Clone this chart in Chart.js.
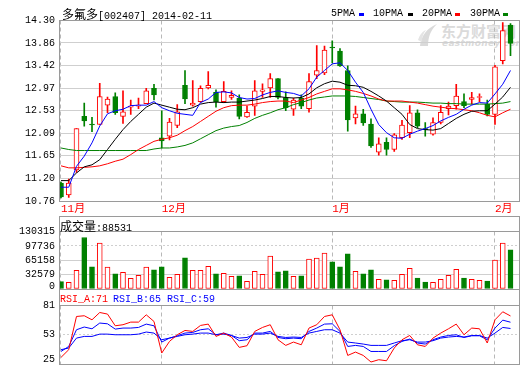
<!DOCTYPE html>
<html><head><meta charset="utf-8">
<script src="https://cdn.jsdelivr.net/npm/chart.js@4"></script>
<style>
html,body{margin:0;padding:0;background:#fff;overflow:hidden;width:520px;height:365px;}
#wrap{position:relative;width:520px;height:365px;}
canvas{position:absolute;left:0;top:0;}
.t{position:absolute;white-space:nowrap;font-family:'Liberation Mono','DejaVu Sans Mono',monospace;font-size:10px;line-height:12px;color:#000;}
.cjk{font-family:'Noto Sans CJK SC',sans-serif;font-size:12px;}
.sq{position:absolute;width:5px;height:3px;}
.wm{position:absolute;white-space:nowrap;color:#dadada;font-family:'Noto Sans CJK SC',sans-serif;}
</style></head><body><div id="wrap">
<svg class="wm" style="left:417px;top:22px" width="22" height="26" viewBox="0 0 22 26"><path d="M3 24 C4 14 10 6 20 2 C14 8 11 14 11 24 Z" fill="#dadada"/><path d="M1 18 C3 12 6 9 9 8 C6 12 5 15 5 20 Z" fill="#e4e4e4"/></svg>
<div class="wm" style="left:441px;top:22px;font-size:15px;font-weight:bold;line-height:18px;">东方财富网</div>
<div class="wm" style="left:442px;top:38px;font-size:9px;font-weight:bold;font-style:italic;line-height:10px;font-family:'DejaVu Sans',sans-serif;letter-spacing:0.3px">eastmoney.com</div>
<canvas id="cPrice" width="520" height="365"></canvas>
<canvas id="cVol" width="520" height="365"></canvas>
<canvas id="cRsi" width="520" height="365"></canvas>
<div class="t" style="left:62px;top:7px;line-height:14px"><span class="cjk">多氟多</span>[002407] 2014-02-11</div>
<div class="t" style="left:331px;top:8px">5PMA</div><div class="sq" style="left:359px;top:13px;background:#0000ff"></div>
<div class="t" style="left:373px;top:8px">10PMA</div><div class="sq" style="left:408px;top:13px;background:#000"></div>
<div class="t" style="left:422px;top:8px">20PMA</div><div class="sq" style="left:455px;top:13px;background:#ff0000"></div>
<div class="t" style="left:470px;top:8px">30PMA</div><div class="sq" style="left:503px;top:13px;background:#008000"></div>
<div class="t" id="volHead" style="left:60px;top:219px;line-height:14px"><span class="cjk">成交量</span>:88531</div>
<div class="t" style="left:60px;top:294px;color:#ff0000">RSI_A:71</div>
<div class="t" style="left:113px;top:294px;color:#0000ff">RSI_B:65</div>
<div class="t" style="left:167px;top:294px;color:#0000ff">RSI_C:59</div>
</div>
<script>
// ---------- data ----------
const dates = ['2013-11-13','2013-11-14','2013-11-15','2013-11-18','2013-11-19','2013-11-20','2013-11-21','2013-11-22','2013-11-25','2013-11-26','2013-11-27','2013-11-28','2013-11-29',
'2013-12-02','2013-12-03','2013-12-04','2013-12-05','2013-12-06','2013-12-09','2013-12-10','2013-12-11','2013-12-12','2013-12-13','2013-12-16','2013-12-17','2013-12-18','2013-12-19','2013-12-20','2013-12-23','2013-12-24','2013-12-25','2013-12-26','2013-12-27','2013-12-30','2013-12-31',
'2014-01-02','2014-01-03','2014-01-06','2014-01-07','2014-01-08','2014-01-09','2014-01-10','2014-01-13','2014-01-14','2014-01-15','2014-01-16','2014-01-17','2014-01-20','2014-01-21','2014-01-22','2014-01-23','2014-01-24','2014-01-27','2014-01-28','2014-01-29','2014-01-30',
'2014-02-07','2014-02-10','2014-02-11'];
const monthTickIdx = [0, 13, 35, 56];
const monthLabels = ['11月', '12月', '1月', '2月'];

const openP  = [11.11,10.88,11.37,12.42,12.27,12.26,12.64,12.81,12.42,12.60, 12.62,12.67,12.97,12.00,12.03,12.24,13.03,12.64,12.71,12.98, 12.89,12.71,12.79,12.78,12.41,12.62,12.91,12.98,13.16,12.79, 12.56,12.78,12.57,13.23,13.27,13.78,13.70,13.32,12.39,12.47, 12.27,11.72,11.91,11.77,12.00,12.10,12.49,12.17,12.07,12.30, 12.57,12.63,12.71,12.75,12.79,12.66,12.46,13.51,14.21];
const highP  = [11.13,11.19,12.18,12.68,12.40,13.07,12.80,12.88,12.92,12.74, 12.78,12.97,13.05,12.53,12.38,12.65,13.32,13.12,13.02,13.30, 12.94,13.10,12.92,12.84,12.62,13.12,13.06,13.26,13.16,12.90, 12.78,12.84,13.26,13.81,13.80,13.90,13.75,13.41,12.62,12.56, 12.37,12.00,12.00,12.08,12.34,12.63,12.55,12.30,12.39,12.63, 12.70,13.05,12.86,12.89,12.86,12.74,13.42,14.26,14.24];
const lowP   = [10.82,10.83,11.32,12.23,12.12,12.26,12.49,12.46,12.28,12.46, 12.57,12.67,12.74,11.80,11.96,12.20,12.67,12.62,12.70,12.96, 12.60,12.69,12.75,12.37,12.40,12.44,12.79,12.79,12.76,12.53, 12.44,12.57,12.50,13.16,13.24,13.47,13.40,12.13,12.27,12.24, 11.81,11.66,11.66,11.73,11.97,12.00,12.20,12.03,12.05,12.27, 12.45,12.56,12.59,12.66,12.71,12.43,12.26,13.45,13.61];
const closeP = [10.84,11.11,12.18,12.33,12.25,12.81,12.76,12.49,12.51,12.61, 12.64,12.92,12.84,11.94,12.31,12.51,12.76,12.68,12.97,13.03, 12.71,12.91,12.83,12.42,12.50,12.92,12.94,13.16,12.79,12.59, 12.74,12.62,13.10,13.32,13.72,13.76,13.41,12.35,12.47,12.29, 11.84,11.88,11.77,12.06,12.25,12.49,12.23,12.16,12.30,12.50, 12.62,12.82,12.63,12.79,12.81,12.46,13.39,14.10,13.85];

const ma5  = [11.03,11.03,11.44,11.64,11.90,12.23,12.47,12.53,12.56,12.63, 12.64,12.64,12.71,12.59,12.53,12.48,12.46,12.44,12.69,12.76, 12.89,12.90,12.88,12.79,12.76,12.77,12.84,12.89,12.92,12.89, 12.87,12.82,12.96,13.19,13.32,13.45,13.47,13.32,13.09,12.89, 12.56,12.26,12.10,12.00,11.99,12.07,12.13,12.18,12.24,12.33, 12.40,12.46,12.56,12.64,12.69,12.68,12.86,13.05,13.32];
const ma10 = [11.16,11.16,11.31,11.43,11.47,11.57,11.77,11.97,12.16,12.32, 12.46,12.60,12.68,12.64,12.60,12.56,12.55,12.59,12.66,12.69, 12.70,12.69,12.70,12.70,12.72,12.74,12.77,12.81,12.81,12.79, 12.78,12.79,12.86,12.98,13.06,13.11,13.09,13.03,13.02,12.99, 12.91,12.82,12.72,12.59,12.46,12.26,12.18,12.16,12.15,12.18, 12.28,12.38,12.46,12.52,12.53,12.53,12.66,12.80,12.99];
const ma20 = [11.45,11.41,11.41,11.42,11.43,11.45,11.49,11.54,11.58,11.67, 11.77,11.85,11.93,11.97,12.00,12.05,12.14,12.22,12.32,12.42, 12.52,12.59,12.63,12.64,12.64,12.66,12.69,12.71,12.72,12.72, 12.69,12.74,12.79,12.86,12.91,12.96,12.96,12.94,12.91,12.87, 12.82,12.76,12.72,12.72,12.72,12.70,12.68,12.65,12.62,12.60, 12.58,12.57,12.55,12.53,12.49,12.44,12.41,12.49,12.56];
const ma30 = [11.80,11.77,11.75,11.75,11.75,11.75,11.75,11.75,11.75,11.75, 11.75,11.75,11.78,11.80,11.80,11.82,11.85,11.90,11.98,12.06, 12.14,12.19,12.22,12.24,12.30,12.38,12.44,12.49,12.55,12.59, 12.65,12.69,12.74,12.78,12.80,12.82,12.82,12.82,12.81,12.79, 12.77,12.75,12.72,12.71,12.70,12.70,12.70,12.69,12.68,12.68, 12.67,12.67,12.66,12.66,12.66,12.66,12.67,12.68,12.71];

const volume = [16600,15200,42500,116700,50000,103900,49400,34100,38000,24300, 31200,49400,43200,50000,26600,33400,70500,42500,42500,51600, 34100,35700,28900,29600,17500,40300,33400,74400,38700,40900, 28900,29600,67600,69800,81200,61400,50000,79600,40300,34100, 43200,22100,20500,19800,33400,47100,25000,15900,15200,22100, 31200,44800,25000,22100,19800,18200,65300,103900,88531];

const rsiA = [31.3,38.7,70.5,71.2,67.3,74.3,72.8,61.6,62.6,65.1, 65.1,72.1,65.7,35.5,46.6,53,57.1,56.2,61.9,63.2, 51.4,54.6,50.8,40.9,42.5,56.2,60,62.6,48.2,42.8, 46.0,43.4,59.4,62.6,70.5,72.1,57.8,33.2,36.4,33.2, 26.9,29.1,28.1,40.3,48.2,52.3,43.4,41.8,49.8,54.6, 58.7,63.2,53,59.4,58.7,45.1,67.3,75,71];
const rsiB = [37,41.8,57.8,60.4,58.7,64.2,63.5,58.4,59.4,59.4, 60,63.2,61.6,46,49.8,52,54.6,55.2,57.8,58.7, 53,54.6,52.3,47.3,48.2,54.6,54.6,56.2,50.4,49.2, 49.8,49.2,56.2,59.4,63.2,63.5,56.2,41.8,42.8,41.8, 37,37,37,42.5,46.6,48.9,45.1,44.1,48.2,50.8, 52.3,53,50.4,52,52,48.2,59.4,67,65];
const rsiC = [38.7,40.3,49.8,51.4,51.4,53.6,53.6,53,53,53, 53.6,55.6,54.6,48.2,49.8,51.4,53,53.6,54.6,54.6, 53,53.6,52.3,49.8,50.4,53.6,53.6,54.6,51.4,50.4, 50.8,50.4,54.6,56.2,57.8,57.8,54.6,46,45.1,44.1, 42.8,42.8,42.8,45.1,47.3,48.2,46,46,47.3,49.8, 50.8,51.4,50.8,52.3,52.3,49.8,54.6,60,59];

const priceTicks = [10.76, 11.20, 11.65, 12.09, 12.53, 12.97, 13.42, 13.86, 14.30];
const volTicks = [0, 32579, 65158, 97736, 130315];
const rsiTicks = [25, 53, 81];

// ---------- style / layout ----------
const RED = '#ff0000', GREEN = '#008000', BLUE = '#0000ff', BLACK = '#000000';
const FRAME = '#9a9a9a', GRID = '#cfcfcf', VGRID = '#b8b8b8';
const X_LEFT = 59, X_RIGHT = 519, X_MIN = -0.258, X_MAX = 59.097;
Chart.defaults.font.family = "'Liberation Mono','DejaVu Sans Mono','Noto Sans CJK SC',monospace";
Chart.defaults.font.size = 10;
Chart.defaults.color = '#000';

const isUp = closeP.map((c, i) => c >= openP[i]);
const pts = arr => arr.map((v, i) => ({x: i, y: v}));

const framePlugin = {
  id: 'frame',
  afterDraw(chart, args, o) {
    const {ctx, chartArea: a} = chart;
    ctx.save();
    ctx.strokeStyle = FRAME; ctx.lineWidth = 1; ctx.setLineDash([]);
    const L = Math.floor(a.left) + 0.5, R = Math.floor(a.right) + 0.5;
    const T = (o.boxTop != null ? o.boxTop : Math.floor(a.top)) + 0.5;
    const B = Math.floor(a.bottom) + 0.5;
    ctx.strokeRect(L, T, R - L, B - T);
    if (o.boxTop != null) {
      const y = Math.floor(a.top) + 0.5;
      ctx.beginPath(); ctx.moveTo(L, y); ctx.lineTo(R, y); ctx.stroke();
    }
    ctx.restore();
  }
};

function xScale(h, showLabels) {
  return {
    type: 'linear', min: X_MIN, max: X_MAX, offset: false,
    afterBuildTicks: s => { s.ticks = monthTickIdx.map(v => ({value: v})); },
    afterFit: s => { s.height = h; s.paddingLeft = 0; s.paddingRight = 0; },
    grid: {offset: false, color: VGRID, lineWidth: 1, drawTicks: false},
    border: {display: false, dash: [4, 3]},
    ticks: {display: showLabels, padding: 1, align: 'start', color: RED, autoSkip: false, maxRotation: 0,
      font: {size: 11}, callback: (v, i) => monthLabels[i]}
  };
}
function yScale(min, max, tickArr, fmt, dashFn, fontFn) {
  return {
    type: 'linear', min, max, position: 'left',
    afterBuildTicks: s => { s.ticks = tickArr.map(v => ({value: v})); },
    afterFit: s => { s.width = X_LEFT; s.paddingTop = 0; s.paddingBottom = 0; },
    grid: {drawTicks: false, lineWidth: 1,
      color: c => (c.index === 0 || c.index === tickArr.length - 1) ? 'rgba(0,0,0,0)' : GRID},
    border: {display: false, dash: dashFn},
    ticks: {padding: 4, autoSkip: false, color: '#000', callback: fmt, font: fontFn}
  };
}
const commonOpts = (top) => ({
  responsive: false, animation: false, devicePixelRatio: 1,
  layout: {padding: {left: 0, right: 520 - X_RIGHT, top: top, bottom: 0}},
  plugins: {legend: {display: false}, tooltip: {enabled: false}},
  events: []
});

// ---------- price chart ----------
const priceOpts = commonOpts(20.5);
priceOpts.plugins.frame = {};
priceOpts.scales = {
  x: xScale(365 - 201, true),
  y: yScale(10.76, 14.30, priceTicks, v => v.toFixed(2), c => [], {size: 10})
};
const lineDs = (label, arr, color) => ({type: 'line', label, data: pts(arr), borderColor: color, borderWidth: 1,
  pointRadius: 0, tension: 0, fill: false, order: 1});
new Chart(document.getElementById('cPrice'), {
  type: 'bar',
  data: {datasets: [
    {label: 'wick', data: lowP.map((l, i) => ({x: i, y: [l, highP[i]]})), backgroundColor: isUp.map(u => u ? RED : GREEN),
     borderWidth: 0, barThickness: 1, grouped: false, order: 3},
    {label: 'body', data: openP.map((o, i) => ({x: i, y: [o, closeP[i]]})), backgroundColor: isUp.map(u => u ? '#ffffff' : GREEN),
     borderColor: isUp.map(u => u ? RED : GREEN), borderWidth: 1, borderSkipped: false, barThickness: 5, minBarLength: 1, grouped: false, order: 2},
    lineDs('5PMA', ma5, BLUE), lineDs('10PMA', ma10, BLACK), lineDs('20PMA', ma20, RED), lineDs('30PMA', ma30, GREEN)
  ]},
  options: priceOpts,
  plugins: [framePlugin]
});

// ---------- volume chart ----------
const volOpts = commonOpts(231.5);
volOpts.plugins.frame = {boxTop: 216};
volOpts.scales = {
  x: xScale(365 - 289, false),
  y: yScale(0, 130315, volTicks, (v, i) => i === 0 ? [String(v), ''] : String(v),
    c => (c.index === 3 ? [2, 2] : []),
    c => ({size: 10, lineHeight: c.index === 0 ? 0.6 : 1.2}))
};
new Chart(document.getElementById('cVol'), {
  type: 'bar',
  data: {datasets: [{label: '成交量', data: pts(volume), backgroundColor: isUp.map(u => u ? '#ffffff' : GREEN),
    borderColor: isUp.map(u => u ? RED : GREEN), borderWidth: 1, borderSkipped: false, barThickness: 5, grouped: false}]},
  options: volOpts,
  plugins: [framePlugin]
});

// ---------- RSI chart ----------
const rsiOpts = commonOpts(305.5);
rsiOpts.plugins.frame = {boxTop: 289};
rsiOpts.scales = {
  x: xScale(1, false),
  y: yScale(25, 81, rsiTicks, (v, i) => i === 0 ? [String(v), ''] : String(v),
    c => [2, 2],
    c => ({size: 10, lineHeight: c.index === 0 ? 0.86 : 1.2}))
};
new Chart(document.getElementById('cRsi'), {
  type: 'line',
  data: {datasets: [
    {label: 'RSI_A', data: pts(rsiA), borderColor: RED, borderWidth: 1, pointRadius: 0, tension: 0},
    {label: 'RSI_B', data: pts(rsiB), borderColor: BLUE, borderWidth: 1, pointRadius: 0, tension: 0},
    {label: 'RSI_C', data: pts(rsiC), borderColor: BLUE, borderWidth: 1, pointRadius: 0, tension: 0}
  ]},
  options: rsiOpts,
  plugins: [framePlugin]
});
</script>
</body></html>
